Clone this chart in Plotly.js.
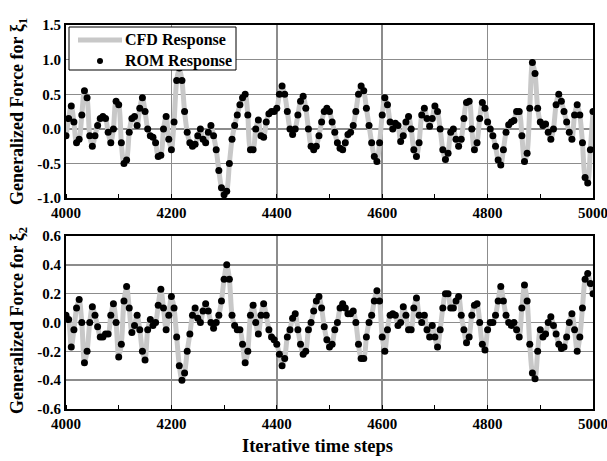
<!DOCTYPE html>
<html><head><meta charset="utf-8">
<script src="https://cdn.plot.ly/plotly-3.0.1.min.js"></script>
<style>html,body{margin:0;padding:0;background:#fff}#c{width:607px;height:461px}</style>
</head><body><div id="c"></div>
<script>
const startStep = 4000;
const stepSize = 5;
const force1 = [
-0.1,0.15,0.33,0.1,-0.2,-0.15,0.2,0.55,0.45,-0.1,
-0.25,-0.1,0.05,0.15,0.18,0.15,-0.05,-0.2,0.0,0.4,
0.35,-0.2,-0.5,-0.45,-0.05,0.15,0.18,0.05,0.3,0.45,
0.25,0.0,-0.1,-0.12,-0.2,-0.4,-0.38,0.0,0.18,-0.15,
-0.3,0.1,0.7,0.88,0.7,0.25,-0.05,-0.2,-0.25,-0.22,
-0.1,0.0,-0.15,-0.2,-0.05,0.05,-0.1,-0.3,-0.6,-0.85,
-0.95,-0.9,-0.5,-0.15,0.05,0.2,0.35,0.45,0.5,0.2,
-0.3,-0.3,0.0,0.13,-0.1,-0.12,0.1,0.22,0.25,0.25,
0.3,0.5,0.62,0.5,0.25,0.0,-0.08,0.0,0.2,0.4,
0.47,0.3,0.0,-0.25,-0.3,-0.25,-0.1,0.1,0.25,0.3,
0.25,0.1,-0.05,-0.2,-0.28,-0.3,-0.2,-0.08,-0.05,0.05,
0.25,0.5,0.62,0.55,0.3,0.05,-0.2,-0.4,-0.47,-0.2,
0.2,0.45,0.35,0.1,0.0,0.08,0.05,-0.18,-0.1,0.1,
0.18,0.0,-0.3,-0.4,-0.2,0.2,0.3,0.15,0.04,0.15,
0.33,0.25,0.0,-0.3,-0.44,-0.35,-0.05,0.0,-0.15,-0.25,
-0.15,0.15,0.38,0.4,0.0,-0.3,-0.2,0.15,0.38,0.3,
0.1,0.0,-0.1,-0.25,-0.45,-0.52,-0.3,-0.05,0.06,0.1,
0.12,0.25,0.25,-0.1,-0.47,-0.35,0.3,0.96,0.8,0.3,
0.1,0.05,0.07,-0.05,-0.15,0.0,0.35,0.5,0.4,0.25,
0.1,-0.05,-0.15,0.2,0.35,0.2,-0.2,-0.7,-0.78,-0.3,
0.25];
const force2 = [
0.05,0.02,-0.17,-0.05,0.1,0.16,0.0,-0.28,-0.2,0.0,
0.11,0.05,-0.03,-0.1,-0.1,-0.08,-0.08,0.05,0.13,0.0,
-0.24,-0.15,0.15,0.25,0.1,-0.07,-0.02,0.05,-0.05,-0.2,
-0.26,-0.05,0.02,-0.02,0.0,0.12,0.23,0.1,-0.05,0.05,
0.18,0.1,-0.1,-0.3,-0.4,-0.35,-0.2,-0.08,0.05,0.1,
0.03,0.0,0.08,0.13,0.08,0.0,-0.04,0.0,0.05,0.15,
0.3,0.4,0.3,0.05,-0.02,-0.05,-0.05,-0.15,-0.28,-0.2,
0.05,0.12,0.0,-0.08,0.05,0.13,0.05,-0.05,-0.1,-0.12,
-0.15,-0.22,-0.3,-0.25,-0.1,-0.05,0.03,0.06,-0.05,-0.15,
-0.22,-0.2,-0.05,0.0,0.08,0.15,0.18,0.1,-0.03,-0.12,
-0.17,-0.15,-0.05,0.0,0.1,0.13,0.1,0.06,0.06,0.08,
0.0,-0.15,-0.25,-0.25,-0.1,0.0,0.05,0.15,0.22,0.15,
-0.1,-0.2,-0.05,0.05,0.06,0.05,-0.02,0.0,0.11,0.05,
-0.05,-0.05,0.1,0.17,0.05,0.0,0.05,-0.05,-0.1,-0.02,
-0.1,-0.17,-0.05,0.1,0.2,0.2,0.1,0.1,0.15,0.18,
0.05,-0.05,-0.14,-0.1,0.05,0.12,0.13,0.0,-0.15,-0.19,
-0.05,0.0,0.0,0.05,0.15,0.25,0.15,0.05,0.0,-0.02,
0.0,-0.05,-0.1,0.1,0.26,0.15,-0.15,-0.35,-0.39,-0.2,
-0.05,-0.1,-0.08,0.0,0.04,-0.02,-0.08,-0.15,-0.18,-0.17,
-0.1,0.0,0.06,-0.05,-0.2,-0.1,0.1,0.3,0.34,0.27,
0.2];
const steps = force1.map((_, i) => startStep + i * stepSize);
const seriesNames = ['CFD Response', 'ROM Response'];
const xTicks = [4000, 4200, 4400, 4600, 4800, 5000];
const y1Ticks = [-1.0, -0.5, 0.0, 0.5, 1.0, 1.5];
const y2Ticks = [-0.6, -0.4, -0.2, 0.0, 0.2, 0.4, 0.6];
const yTitles = ['Generalized Force for ξ<sub>1</sub>', 'Generalized Force for ξ<sub>2</sub>'];
const xTitle = 'Iterative time steps';

const serif = 'Liberation Serif, Times New Roman, serif';
const tickFont = {family: serif, size: 15, color: '#000', weight: 'bold'};
const titleFont = {family: serif, size: 18, color: '#000', weight: 'bold'};
const lineColor = '#c8c8c8';

function cfd(y, xa, ya) {
  return {x: steps, y: y, xaxis: xa, yaxis: ya, mode: 'lines', name: seriesNames[0],
    line: {color: lineColor, width: 5, shape: 'spline', smoothing: 0.8}, showlegend: false};
}
function rom(y, xa, ya) {
  return {x: steps, y: y, xaxis: xa, yaxis: ya, mode: 'markers', name: seriesNames[1],
    marker: {color: '#000', size: 7}, showlegend: false};
}
const traces = [cfd(force1,'x','y'), rom(force1,'x','y'),
                cfd(force2,'x2','y2'), rom(force2,'x2','y2')];

function xax(anchor) {
  return {anchor: anchor, range: [4000, 5000], tickvals: xTicks, ticktext: xTicks.map(String),
    showgrid: true, gridcolor: '#8c8c8c', gridwidth: 1.5, showline: true, linecolor: '#000', linewidth: 2,
    mirror: true, ticks: '', tickfont: tickFont, zeroline: false, ticklabeloverflow: 'allow',
    minor: {dtick: 100, tick0: 4000, ticks: 'inside', ticklen: 4, tickcolor: '#000', showgrid: false}};
}
function yax(domain, range, ticks, anchor) {
  return {domain: domain, anchor: anchor, range: range, tickvals: ticks, ticktext: ticks.map(v => v.toFixed(1)),
    showgrid: true, gridcolor: '#8c8c8c', gridwidth: 1.5, showline: true, linecolor: '#000', linewidth: 2,
    mirror: true, ticks: '', tickfont: tickFont, zeroline: false, ticklabeloverflow: 'allow'};
}
// pixel helpers for the annotation / legend placement (plot area 66..593 x, 25..409 y)
const px = v => (v - 66) / 527;
const py = v => (409 - v) / 384;
const legFont = {family: serif, size: 16, color: '#000', weight: 'bold'};
const layout = {
  width: 607, height: 461, margin: {l: 66, r: 14, t: 25, b: 52},
  paper_bgcolor: '#fff', plot_bgcolor: '#fff',
  xaxis: xax('y'),
  yaxis: yax([0.549, 1], [-1.0, 1.5], y1Ticks, 'x'),
  xaxis2: xax('y2'),
  yaxis2: yax([0, 0.4505], [-0.6, 0.6], y2Ticks, 'x2'),
  showlegend: false,
  shapes: [
    {type: 'rect', xref: 'paper', yref: 'paper', x0: px(69), x1: px(236), y0: py(70), y1: py(27),
     fillcolor: '#fff', line: {color: '#000', width: 1}, layer: 'above'},
    {type: 'line', xref: 'paper', yref: 'paper', x0: px(78), x1: px(122), y0: py(40), y1: py(40),
     line: {color: lineColor, width: 5}, layer: 'above'},
    {type: 'circle', xref: 'paper', yref: 'paper', x0: px(97), x1: px(103), y0: py(64), y1: py(58),
     fillcolor: '#000', line: {color: '#000', width: 0}, layer: 'above'}
  ],
  annotations: [
    {text: seriesNames[0], xref: 'paper', yref: 'paper', x: px(123), y: py(40), xanchor: 'left', yanchor: 'middle',
     showarrow: false, font: legFont},
    {text: seriesNames[1], xref: 'paper', yref: 'paper', x: px(123), y: py(61), xanchor: 'left', yanchor: 'middle',
     showarrow: false, font: legFont},
    {text: yTitles[0], xref: 'paper', yref: 'paper', x: px(18), y: py(112), xanchor: 'center', yanchor: 'middle',
     textangle: -90, showarrow: false, font: titleFont},
    {text: yTitles[1], xref: 'paper', yref: 'paper', x: px(18), y: py(321), xanchor: 'center', yanchor: 'middle',
     textangle: -90, showarrow: false, font: titleFont},
    {text: xTitle, xref: 'paper', yref: 'paper', x: px(317), y: py(446), xanchor: 'center', yanchor: 'middle',
     showarrow: false, font: {family: serif, size: 18.5, color: '#000', weight: 'bold'}}
  ]
};
Plotly.newPlot('c', traces, layout, {displayModeBar: false, staticPlot: true});
</script></body></html>
